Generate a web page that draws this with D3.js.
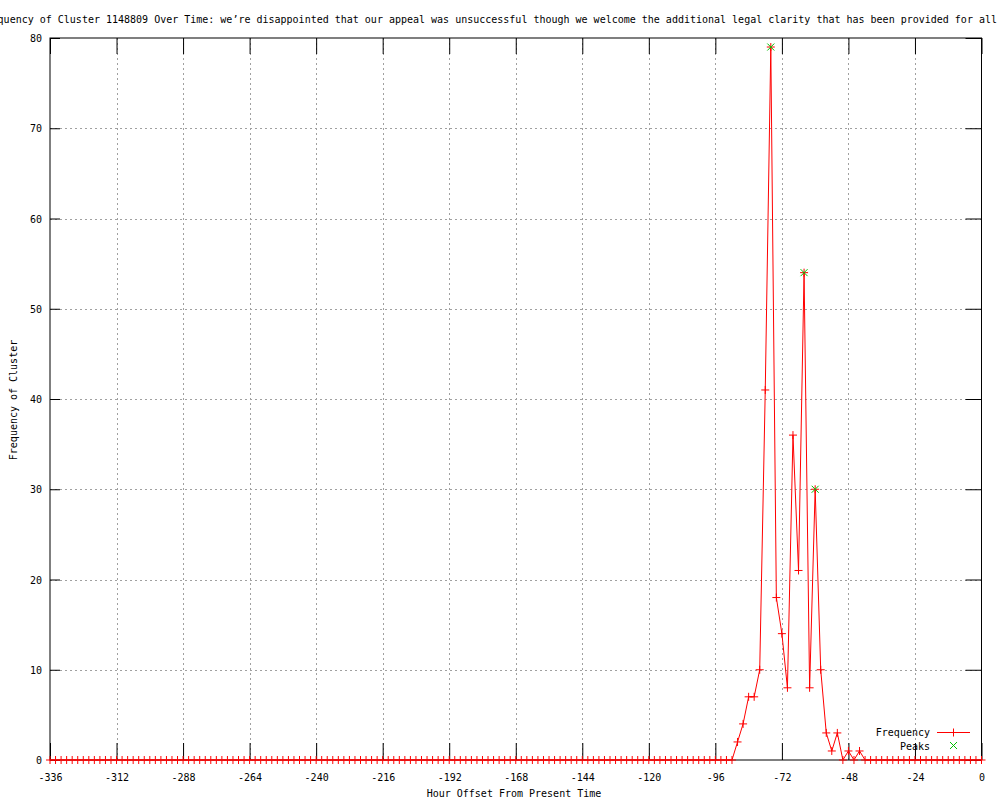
<!DOCTYPE html>
<html>
<head>
<meta charset="utf-8">
<script src="https://d3js.org/d3.v7.min.js"></script>
<style>
  body { margin: 0; background: #fff; }
  text { font-family: "DejaVu Sans Mono", "Liberation Mono", monospace; font-size: 10px; fill: #000; }
</style>
</head>
<body>
<svg id="chart" width="1000" height="800"></svg>
<script>
// hours with non-zero counts (everything else on the 2h grid is 0)
var activeHours = [-88, -86, -84, -82, -80, -78, -76, -74, -72, -70, -68, -66, -64, -62, -60, -58, -56, -54, -52, -50, -48, -46, -44];
var activeCounts = [2, 4, 7, 7, 10, 41, 79, 18, 14, 8, 36, 21, 54, 8, 30, 10, 3, 1, 3, 0, 1, 0, 1];
var peakHours = [-76, -64, -60];
var peakCounts = [79, 54, 30];
var xTicks = [-336, -312, -288, -264, -240, -216, -192, -168, -144, -120, -96, -72, -48, -24, 0];
var yTicks = [0, 10, 20, 30, 40, 50, 60, 70, 80];
var title = "Frequency of Cluster 1148809 Over Time: we\u2019re disappointed that our appeal was unsuccessful though we welcome the additional legal clarity that has been provided for all";

var hours = d3.range(-336, 1, 2);
var freq = hours.map(function(h) {
  var i = activeHours.indexOf(h);
  return { h: h, v: i < 0 ? 0 : activeCounts[i] };
});
var peaks = peakHours.map(function(h, i) { return { h: h, v: peakCounts[i] }; });

var plotL = 50, plotR = 981.5, plotT = 38, plotB = 760;
var svg = d3.select("#chart");

var x = d3.scaleLinear().domain([-336, 0]).range([plotL, plotR]);
var y = d3.scaleLinear().domain([0, 80]).range([plotB, plotT]);

// grid
svg.append("g").selectAll("line").data(xTicks.slice(1, -1)).join("line")
  .attr("x1", function(d) { return Math.round(x(d)) + 0.5; })
  .attr("x2", function(d) { return Math.round(x(d)) + 0.5; })
  .attr("y1", plotT).attr("y2", plotB)
  .attr("stroke", "#a0a0a0").attr("stroke-dasharray", "2,3");
svg.append("g").selectAll("line").data(yTicks.slice(1, -1)).join("line")
  .attr("y1", function(d) { return Math.round(y(d)) + 0.5; })
  .attr("y2", function(d) { return Math.round(y(d)) + 0.5; })
  .attr("x1", plotL).attr("x2", plotR)
  .attr("stroke", "#a0a0a0").attr("stroke-dasharray", "2,3");

// axes (gnuplot style: ticks inside on all four sides)
var bottomAxis = d3.axisBottom(x).tickValues(xTicks).tickSizeInner(-17).tickSizeOuter(0).tickPadding(22)
  .tickFormat(function(d) { return d3.format("d")(d).replace("\u2212", "-"); });
var gx = svg.append("g").attr("transform", "translate(0," + plotB + ")").call(bottomAxis);
var gt = svg.append("g").attr("transform", "translate(0," + plotT + ")")
  .call(d3.axisTop(x).tickValues(xTicks).tickSizeInner(-16).tickSizeOuter(0).tickFormat(""));
var gy = svg.append("g").attr("transform", "translate(" + plotL + ",0)")
  .call(d3.axisLeft(y).tickValues(yTicks).tickSizeInner(-10).tickSizeOuter(0).tickPadding(18));
var gr = svg.append("g").attr("transform", "translate(" + plotR + ",0)")
  .call(d3.axisRight(y).tickValues(yTicks).tickSizeInner(-16).tickSizeOuter(0).tickFormat(""));
[gx, gt, gy, gr].forEach(function(g) {
  g.select(".domain").remove();
  g.selectAll("line").attr("stroke", "#000");
  g.selectAll("text").attr("font-family", null).attr("font-size", null).attr("fill", "#000");
});
gx.selectAll("text").attr("dy", null).attr("y", 21);
gy.selectAll("text").attr("dy", "0.35em").attr("x", -8);

svg.append("rect").attr("x", plotL).attr("y", plotT)
  .attr("width", plotR - plotL).attr("height", plotB - plotT)
  .attr("fill", "none").attr("stroke", "#000");

// series
var line = d3.line().x(function(d) { return x(d.h); }).y(function(d) { return y(d.v); });
svg.append("path").datum(freq).attr("d", line)
  .attr("fill", "none").attr("stroke", "#ff0000").attr("stroke-width", 1);

function plus(cx, cy) { return "M" + (cx - 4) + "," + cy + "H" + (cx + 4) + "M" + cx + "," + (cy - 4) + "V" + (cy + 4); }
function cross(cx, cy) { return "M" + (cx - 3.5) + "," + (cy - 3.5) + "L" + (cx + 3.5) + "," + (cy + 3.5) + "M" + (cx - 3.5) + "," + (cy + 3.5) + "L" + (cx + 3.5) + "," + (cy - 3.5); }

svg.append("g").selectAll("path").data(freq).join("path")
  .attr("d", function(d) { return plus(x(d.h), y(d.v)); })
  .attr("stroke", "#ff0000").attr("stroke-width", 1).attr("fill", "none");
svg.append("g").selectAll("path").data(peaks).join("path")
  .attr("d", function(d) { return cross(x(d.h), y(d.v)); })
  .attr("stroke", "#00c000").attr("stroke-width", 1).attr("fill", "none");

// legend
svg.append("text").attr("x", 930).attr("y", 736).attr("text-anchor", "end").text("Frequency");
svg.append("line").attr("x1", 937).attr("x2", 970).attr("y1", 732.5).attr("y2", 732.5).attr("stroke", "#ff0000");
svg.append("path").attr("d", plus(953.5, 732.5)).attr("stroke", "#ff0000");
svg.append("text").attr("x", 930).attr("y", 749.5).attr("text-anchor", "end").text("Peaks");
svg.append("path").attr("d", cross(953.5, 745.5)).attr("stroke", "#00c000");

// titles
svg.append("text").attr("x", 997).attr("y", 23).attr("text-anchor", "end").text(title);
svg.append("text").attr("x", 514).attr("y", 797).attr("text-anchor", "middle").text("Hour Offset From Present Time");
svg.append("text").attr("transform", "translate(17,400) rotate(-90)").attr("text-anchor", "middle").text("Frequency of Cluster");
</script>
</body>
</html>
